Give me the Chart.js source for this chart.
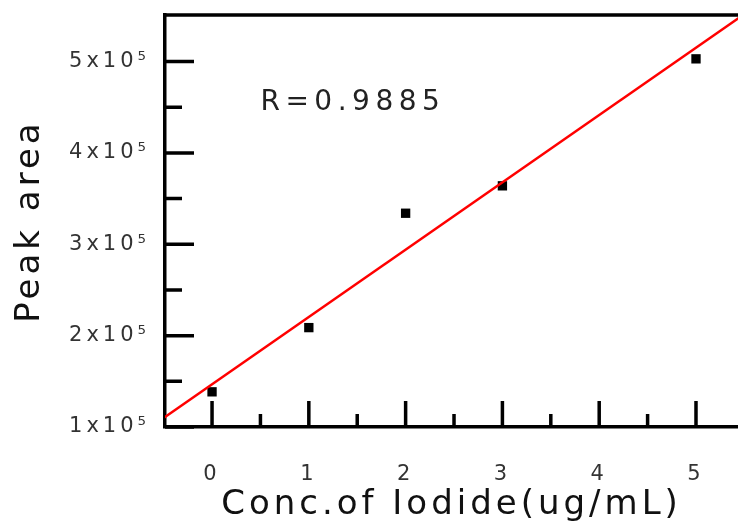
<!DOCTYPE html>
<html>
<head>
<meta charset="utf-8">
<script src="https://cdn.jsdelivr.net/npm/chart.js@4/dist/chart.umd.min.js"></script>
<style>
  html, body { margin: 0; padding: 0; background: #fff; }
  canvas { display: block; }
</style>
</head>
<body>
<canvas id="calibChart" width="738" height="524"></canvas>
<script>
// measured points: concentration (ug/mL) and peak area
const concValues = [0, 1, 2, 3, 5];
const peakAreas = [1.385e5, 2.088e5, 3.34e5, 3.64e5, 5.03e5];

// ends of the fitted line
const fitX = [-0.5, 5.5];
const fitY = [1.10e5, 5.52e5];

// labelled ticks
const xTicks = [0, 1, 2, 3, 4, 5];
const yTicks = [1e5, 2e5, 3e5, 4e5, 5e5];

// correlation note and where it sits (data coords)
const rText = 'R=0.9885';
const rPos = [0.5, 4.55e5];

const FONT = '"DejaVu Sans", sans-serif';

// axis frame: top line, inward major/minor ticks, R label
const framePlugin = {
  id: 'frame',
  beforeDraw(chart) {
    chart.ctx.letterSpacing = '4px';
  },
  afterDraw(chart) {
    const { ctx, chartArea: a, scales: { x, y } } = chart;
    ctx.save();
    ctx.strokeStyle = '#000';
    ctx.lineWidth = 3.5;
    ctx.beginPath();
    ctx.moveTo(a.left - 1.75, a.top);
    ctx.lineTo(a.right, a.top);

    y.ticks.forEach(t => {
      const py = y.getPixelForValue(t.value);
      ctx.moveTo(a.left, py);
      ctx.lineTo(a.left + 29, py);
      const mid = y.getPixelForValue(t.value + 0.5e5);
      if (mid > a.top + 3) {
        ctx.moveTo(a.left, mid);
        ctx.lineTo(a.left + 17, mid);
      }
    });
    x.ticks.forEach(t => {
      const px = x.getPixelForValue(t.value);
      ctx.moveTo(px, a.bottom);
      ctx.lineTo(px, a.bottom - 26);
      const mid = x.getPixelForValue(t.value + 0.5);
      if (mid < a.right - 3) {
        ctx.moveTo(mid, a.bottom);
        ctx.lineTo(mid, a.bottom - 13);
      }
    });
    ctx.stroke();

    ctx.letterSpacing = '5.5px';
    ctx.font = '28px ' + FONT;
    ctx.fillStyle = '#222';
    ctx.textAlign = 'left';
    ctx.textBaseline = 'middle';
    ctx.fillText(rText, x.getPixelForValue(rPos[0]), y.getPixelForValue(rPos[1]));
    ctx.restore();
  }
};

const ctx = document.getElementById('calibChart').getContext('2d');
const calibChart = new Chart(ctx, {
  type: 'scatter',
  data: {
    datasets: [
      {
        type: 'line',
        label: 'fit',
        data: fitX.map((v, i) => ({ x: v, y: fitY[i] })),
        borderColor: '#ff0000',
        borderWidth: 2.5,
        pointRadius: 0,
        fill: false,
        clip: 0
      },
      {
        label: 'Peak area',
        data: concValues.map((v, i) => ({ x: v, y: peakAreas[i] })),
        pointStyle: 'rect',
        pointRadius: 6.6,
        pointBackgroundColor: '#000',
        pointBorderColor: '#000',
        pointBorderWidth: 0
      }
    ]
  },
  options: {
    responsive: false,
    animation: false,
    layout: { autoPadding: false, padding: { top: 15, right: 0, bottom: 0, left: 0 } },
    plugins: {
      legend: { display: false },
      tooltip: { enabled: false }
    },
    scales: {
      x: {
        type: 'linear',
        min: -0.486,
        max: 5.434,
        grid: { display: false, drawTicks: false },
        border: { display: true, color: '#000', width: 3.5 },
        ticks: {
          padding: 35,
          color: '#333',
          font: { family: FONT, size: 21 }
        },
        afterBuildTicks: s => { s.ticks = xTicks.map(v => ({ value: v })); },
        title: {
          display: true,
          text: 'Conc.of Iodide(ug/mL)',
          color: '#111',
          font: { family: FONT, size: 34, lineHeight: 1.1 },
          padding: { top: 0, bottom: 0 }
        },
        afterFit: s => { s.height = 97; s.paddingLeft = 0; s.paddingRight = 0; }
      },
      y: {
        type: 'linear',
        min: 1e5,
        max: 5.51e5,
        grid: { display: false, drawTicks: false },
        border: { display: true, color: '#000', width: 3.5 },
        ticks: {
          padding: 15,
          color: '#333',
          font: { family: FONT, size: 21 },
          callback: v => (v / 1e5) + 'x10\u2075'
        },
        afterBuildTicks: s => { s.ticks = yTicks.map(v => ({ value: v })); },
        title: {
          display: true,
          text: 'Peak area',
          color: '#111',
          font: { family: FONT, size: 34 },
          padding: { top: 10, bottom: 0 }
        },
        afterFit: s => { s.width = 165; s.paddingTop = 0; s.paddingBottom = 0; }
      }
    }
  },
  plugins: [framePlugin]
});
</script>
</body>
</html>
